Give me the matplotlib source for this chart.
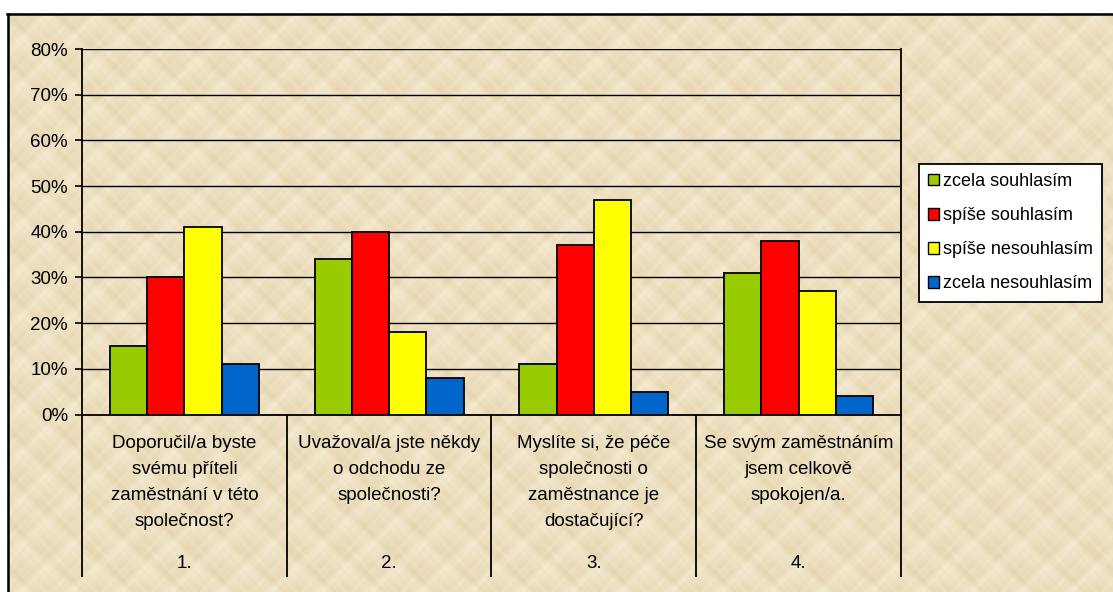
import numpy as np
import matplotlib
matplotlib.use("Agg")
import matplotlib.pyplot as plt
import matplotlib.transforms as mtransforms
from matplotlib.patches import Patch
from matplotlib.lines import Line2D

# ---- data -------------------------------------------------------------
question_numbers = ["1.", "2.", "3.", "4."]
question_texts = [
    ["Doporučil/a byste", "svému příteli", "zaměstnání v této", "společnost?"],
    ["Uvažoval/a jste někdy", "o odchodu ze", "společnosti?"],
    ["Myslíte si, že péče", "společnosti o", "zaměstnance je", "dostačující?"],
    ["Se svým zaměstnáním", "jsem celkově", "spokojen/a."],
]
series_names = ["zcela souhlasím", "spíše souhlasím", "spíše nesouhlasím", "zcela nesouhlasím"]
zcela_souhlasim = [15, 34, 11, 31]
spise_souhlasim = [30, 40, 37, 38]
spise_nesouhlasim = [41, 18, 47, 27]
zcela_nesouhlasim = [11, 8, 5, 4]
series_values = [zcela_souhlasim, spise_souhlasim, spise_nesouhlasim, zcela_nesouhlasim]
series_colors = ["#99CC00", "#FF0000", "#FFFF00", "#0066CC"]
y_ticks = [0, 10, 20, 30, 40, 50, 60, 70, 80]

plt.rcParams["font.family"] = ["Liberation Sans", "DejaVu Sans"]
FS = 13.5

W, H = 1113, 592
fig = plt.figure(figsize=(W / 100, H / 100), dpi=100)
fig.patch.set_facecolor("white")

# ---- parchment background of the chart area ---------------------------
bw, bh = W - 7, H - 13
yy, xx = np.mgrid[0:bh, 0:bw].astype(float)
px, py = 50.0, 46.0
tau = 2 * np.pi
v = (0.50 * np.sin(tau * xx / px) * np.sin(tau * yy / py + 0.7)
     + 0.30 * np.sin(tau * 2 * xx / px + 1.0) * np.sin(tau * 2 * yy / py + 0.5)
     + 0.22 * np.sin(tau * 3 * xx / px + 2.0) * np.cos(tau * 3 * yy / py)
     + 0.15 * np.sin(tau * 5 * xx / px + 0.3) * np.sin(tau * 4 * yy / py + 1.1)
     + 0.10 * np.sin(tau * 7 * xx / px) * np.cos(tau * 6 * yy / py + 0.8)
     + 0.08 * np.sin(xx * 1.9) * np.sin(yy * 2.3))
v = (v - v.min()) / (v.max() - v.min())
light = np.array([244, 234, 210]) / 255
dark = np.array([229, 211, 172]) / 255
tex = light + (dark - light) * (v[..., None] ** 1.2)

bg = fig.add_axes([7 / W, 0, bw / W, bh / H])
bg.imshow(tex, aspect="auto", interpolation="bilinear")
bg.set_axis_off()

# frame of the chart area (top and left edges)
fig.add_artist(Line2D([7 / W, 1], [1 - 13.5 / H, 1 - 13.5 / H], transform=fig.transFigure,
                      color="black", lw=1.8))
fig.add_artist(Line2D([8 / W, 8 / W], [0, 1 - 13.5 / H], transform=fig.transFigure,
                      color="black", lw=1.8))

# ---- plot area ---------------------------------------------------------
left, right, top, bottom = 82, 901, 49, 414.5
ax = fig.add_axes([left / W, 1 - bottom / H, (right - left) / W, (bottom - top) / H])
ax.set_facecolor("none")
ax.set_xlim(0, 4)
ax.set_ylim(0, 80)

n = len(question_numbers)
bar_w = 1 / 5.5
for j, (vals, col) in enumerate(zip(series_values, series_colors)):
    xs = np.arange(n) + (0.75 + j + 0.5) * bar_w
    ax.bar(xs, vals, bar_w, color=col, edgecolor="black", linewidth=1.3, zorder=3)

ax.set_yticks(y_ticks)
ax.set_yticklabels([f"{t}%" for t in y_ticks], fontsize=FS)
ax.yaxis.grid(True, color="black", linewidth=1.0)
ax.set_axisbelow(True)
ax.tick_params(axis="y", length=5, width=1.2, pad=5, color="black")
ax.set_xticks([])
for side in ["left", "bottom", "right"]:
    ax.spines[side].set_linewidth(1.3)
    ax.spines[side].set_color("black")
ax.spines["top"].set_visible(False)

# category dividers and two-level category labels
trans = mtransforms.blended_transform_factory(ax.transData, ax.transAxes)
span = bottom - top
ax.vlines(range(n + 1), -(577 - bottom) / span, 0, transform=trans, clip_on=False,
          color="black", lw=1.3)
line_step = 26.3
for i, lines in enumerate(question_texts):
    for k, line in enumerate(lines):
        ypx = 443 + k * line_step
        ax.text(i + 0.5, (bottom - ypx) / span, line, transform=trans, ha="center",
                va="center", fontsize=FS)
    ax.text(i + 0.5, (bottom - 563) / span, question_numbers[i], transform=trans,
            ha="center", va="center", fontsize=FS)

# ---- legend ------------------------------------------------------------
handles = [Patch(facecolor=c, edgecolor="black", linewidth=1.0) for c in series_colors]
leg = fig.legend(handles, series_names, loc="upper left", bbox_to_anchor=(919 / W, 1 - 164 / H),
                 frameon=True, fancybox=False, framealpha=1, edgecolor="black",
                 fontsize=13, handlelength=0.6, handleheight=0.6, handletextpad=0.25,
                 labelspacing=0.95, borderpad=0.5, borderaxespad=0)
leg.get_frame().set_linewidth(1.3)

fig.savefig("out.png", dpi=100)
